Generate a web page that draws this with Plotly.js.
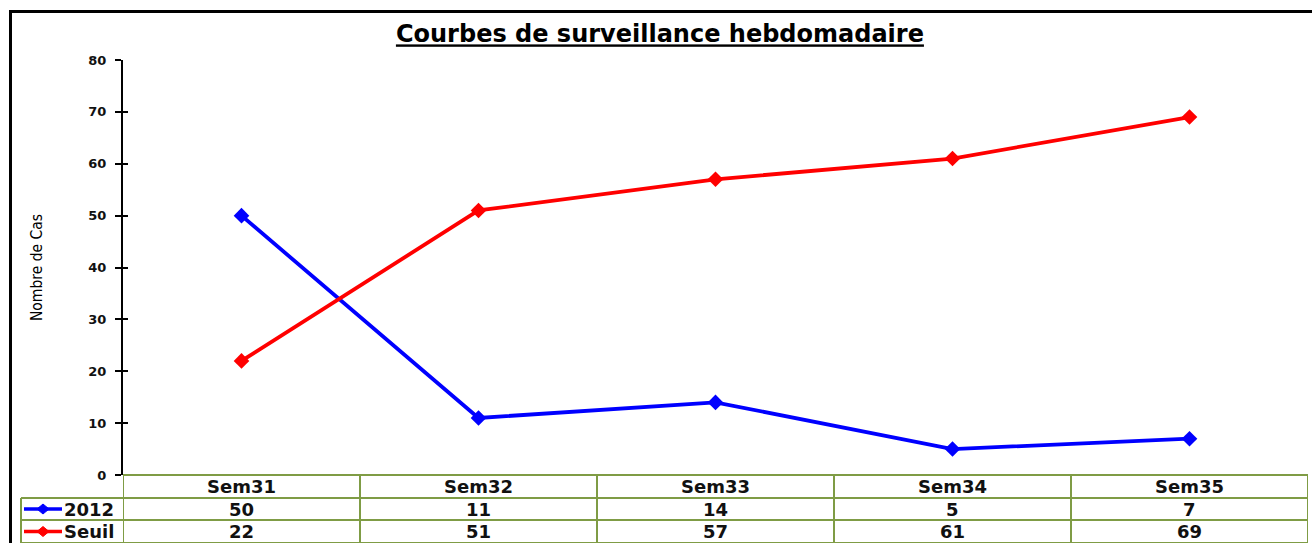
<!DOCTYPE html>
<html>
<head>
<meta charset="utf-8">
<script src="https://cdn.plot.ly/plotly-3.0.1.min.js"></script>
<style>html,body{margin:0;padding:0;background:#fff;}#chart{width:1312px;height:543px;}</style>
</head>
<body>
<div id="chart"></div>
<script>
// ---- data ----
const categories = ['Sem31', 'Sem32', 'Sem33', 'Sem34', 'Sem35'];
const series2012 = [50, 11, 14, 5, 7];
const seriesSeuil = [22, 51, 57, 61, 69];
const seriesNames = ['2012', 'Seuil'];
const yTickVals = [0, 10, 20, 30, 40, 50, 60, 70, 80];

// ---- styling / geometry ----
const W = 1312, H = 543;
const L = 123, R = 1308, T = 60, B = 475;
const px2x = p => (p - L) / (R - L);
const py2y = p => (B - p) / (B - T);
const colors = ['#0000FF', '#FF0000'];
const green = '#7F9C45';
const allSeries = [series2012, seriesSeuil];

const traces = allSeries.map((vals, i) => ({
  type: 'scatter', mode: 'lines+markers', name: seriesNames[i],
  x: categories, y: vals,
  line: {color: colors[i], width: 3.8},
  marker: {symbol: 'diamond', size: 12, color: colors[i]},
  hoverinfo: 'x+y+name'
}));
// invisible trace to carry the inner tick marks axis
traces.push({type: 'scatter', mode: 'markers', x: categories, y: series2012, yaxis: 'y2',
  marker: {opacity: 0}, hoverinfo: 'skip', showlegend: false});

const shapes = [];
const annotations = [];
// outer frame
shapes.push({type: 'rect', xref: 'paper', yref: 'paper', x0: px2x(10.5), x1: px2x(1330), y0: py2y(570), y1: py2y(11.5),
  line: {color: '#000', width: 3}, layer: 'above'});

// table rows (pixel boundaries)
const rowTop = [475, 498, 520, 543];
const legendLeft = 21;
// header top line
shapes.push({type: 'line', xref: 'x', yref: 'paper', x0: -0.5, x1: categories.length - 0.5, y0: py2y(rowTop[0]), y1: py2y(rowTop[0]), line: {color: green, width: 2}});
// row lines
[rowTop[1], rowTop[2], rowTop[3]].forEach(p => {
  shapes.push({type: 'line', xref: 'paper', yref: 'paper', x0: px2x(legendLeft), x1: 1, y0: py2y(p), y1: py2y(p), line: {color: green, width: 2}});
});
// vertical lines
for (let k = 0; k <= categories.length; k++) {
  shapes.push({type: 'line', xref: 'x', yref: 'paper', x0: k - 0.5, x1: k - 0.5, y0: py2y(rowTop[0]), y1: py2y(560), line: {color: green, width: 2}});
}
shapes.push({type: 'line', xref: 'paper', yref: 'paper', x0: px2x(legendLeft), x1: px2x(legendLeft), y0: py2y(rowTop[1]), y1: py2y(560), line: {color: green, width: 2}});

const tableFont = {family: 'DejaVu Sans, Verdana, sans-serif', size: 18, color: '#111', weight: 'bold'};
// header
categories.forEach((c, k) => {
  annotations.push({xref: 'x', yref: 'paper', x: k, y: py2y((rowTop[0] + rowTop[1]) / 2), text: c, showarrow: false,
    xanchor: 'center', yanchor: 'middle', font: tableFont});
});
// value rows
allSeries.forEach((vals, i) => {
  const yc = py2y((rowTop[i + 1] + rowTop[i + 2]) / 2);
  vals.forEach((v, k) => {
    annotations.push({xref: 'x', yref: 'paper', x: k, y: yc, text: String(v), showarrow: false,
      xanchor: 'center', yanchor: 'middle', font: tableFont});
  });
  annotations.push({xref: 'paper', yref: 'paper', x: px2x(62), y: yc, text: seriesNames[i], showarrow: false,
    xanchor: 'left', yanchor: 'middle', font: tableFont, xshift: 0});
  // legend swatch
  shapes.push({type: 'line', xref: 'paper', yref: 'paper', x0: px2x(24), x1: px2x(62), y0: yc, y1: yc, line: {color: colors[i], width: 3.5}});
  const cx = 43, cy = (rowTop[i + 1] + rowTop[i + 2]) / 2;
  const d = `M ${px2x(cx - 6)} ${py2y(cy)} L ${px2x(cx)} ${py2y(cy - 5)} L ${px2x(cx + 6)} ${py2y(cy)} L ${px2x(cx)} ${py2y(cy + 5)} Z`;
  shapes.push({type: 'path', xref: 'paper', yref: 'paper', path: d, fillcolor: colors[i], line: {color: colors[i], width: 1}});
});

const layout = {
  width: W, height: H,
  margin: {l: L, r: W - R, t: T, b: H - B, pad: 0},
  paper_bgcolor: '#fff', plot_bgcolor: '#fff',
  showlegend: false,
  title: {
    text: '<b><u>Courbes de surveillance hebdomadaire</u></b>',
    xref: 'container', x: 0.503, yref: 'container', y: 1 - 34 / H, xanchor: 'center', yanchor: 'middle',
    font: {family: 'DejaVu Sans, Verdana, sans-serif', size: 24, color: '#000'}
  },
  xaxis: {type: 'category', range: [-0.5, categories.length - 0.5], showticklabels: false, ticks: '',
    showline: false, showgrid: false, zeroline: false, fixedrange: true},
  yaxis: {range: [0, 80], tickvals: yTickVals, ticks: 'outside', ticklen: 6, tickwidth: 2, tickcolor: '#000',
    ticklabelstandoff: 6,
    showline: true, linecolor: '#000', linewidth: 2, showgrid: false, zeroline: false,
    tickfont: {family: 'DejaVu Sans, Verdana, sans-serif', size: 13, color: '#111', weight: 'bold'},
    title: {text: 'Nombre de Cas', standoff: 42,
      font: {family: 'DejaVu Sans Condensed, Liberation Sans Narrow, Arial Narrow, sans-serif', size: 15.5, color: '#000'}},
    automargin: false, fixedrange: true},
  yaxis2: {overlaying: 'y', matches: 'y', range: [0, 80], tickvals: yTickVals, ticks: 'inside', ticklen: 5, tickwidth: 2,
    tickcolor: '#000', showticklabels: false, showline: false, showgrid: false, zeroline: false, side: 'left', fixedrange: true},
  shapes: shapes,
  annotations: annotations
};

Plotly.newPlot('chart', traces, layout, {displayModeBar: false, staticPlot: false});
</script>
</body>
</html>
